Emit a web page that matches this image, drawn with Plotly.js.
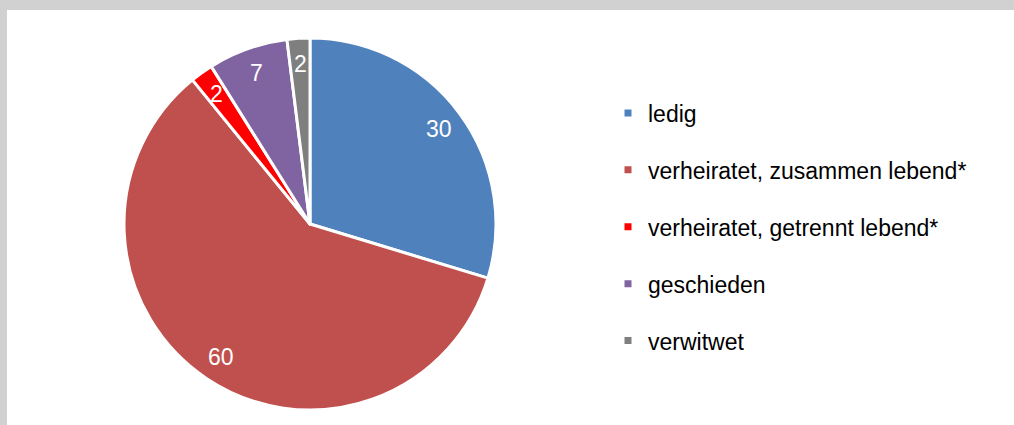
<!DOCTYPE html>
<html>
<head>
<meta charset="utf-8">
<script src="https://cdn.plot.ly/plotly-3.0.1.min.js"></script>
<style>html,body{margin:0;padding:0;background:#D1D1D1;}#chart{width:1014px;height:425px;}</style>
</head>
<body>
<div id="chart"></div>
<script>
const categories = ['ledig', 'verheiratet, zusammen lebend*', 'verheiratet, getrennt lebend*', 'geschieden', 'verwitwet'];
const values = [30, 60, 2, 7, 2];
const sliceColors = ['#4F81BD', '#C0504D', '#FF0000', '#8064A2', '#7F7F7F'];

const W = 1014, H = 425;
const M = {l: 7, r: 0, t: 10, b: 0};
const plotW = W - M.l - M.r, plotH = H - M.t - M.b;
// pie geometry (pixels in page)
const cxPx = 310, cyPx = 224, R = 186;
const cxF = (cxPx - M.l) / plotW;
const cyF = 1 - (cyPx - M.t) / plotH;
const dxF = R / plotW, dyF = R / plotH;

const pie = {
  type: 'pie',
  labels: categories,
  values: values,
  sort: false,
  direction: 'clockwise',
  rotation: 0,
  marker: {colors: sliceColors, line: {color: '#FFFFFF', width: 3}},
  textinfo: 'none',
  hoverinfo: 'skip',
  showlegend: false,
  domain: {x: [cxF - dxF, cxF + dxF], y: [cyF - dyF, cyF + dyF]}
};

// legend entries (one per category)
const legendTraces = categories.map((c, i) => ({
  type: 'scatter', mode: 'markers', x: [null], y: [null],
  name: c, legendgroup: 'g' + i, showlegend: true,
  marker: {symbol: 'square', size: 7, color: sliceColors[i]},
  hoverinfo: 'skip'
}));

// value labels placed along each slice's bisector
const total = values.reduce((a, b) => a + b, 0);
const labelFrac = 0.86;
let cum = 0;
const annotations = values.map(v => {
  const th = 2 * Math.PI * (cum + v / 2) / total;
  cum += v;
  return {
    xref: 'paper', yref: 'paper', showarrow: false,
    x: cxF + labelFrac * dxF * Math.sin(th),
    y: cyF + labelFrac * dyF * Math.cos(th),
    xanchor: 'center', yanchor: 'middle',
    text: String(v),
    font: {family: 'Liberation Sans, Arial, sans-serif', size: 23, color: '#FFFFFF'}
  };
});

const layout = {
  width: W, height: H,
  margin: M,
  paper_bgcolor: '#D1D1D1',
  plot_bgcolor: '#FFFFFF',
  xaxis: {visible: false, range: [0, 1], fixedrange: true},
  yaxis: {visible: false, range: [0, 1], fixedrange: true},
  showlegend: true,
  legend: {
    x: (608 - M.l) / plotW, xanchor: 'left',
    y: 1 - (91.5 - M.t) / plotH, yanchor: 'top',
    tracegroupgap: 24,
    traceorder: 'grouped',
    bgcolor: 'rgba(0,0,0,0)',
    font: {family: 'Liberation Sans, Arial, sans-serif', size: 23, color: '#000000'}
  },
  annotations: annotations,
  font: {family: 'Liberation Sans, Arial, sans-serif'}
};

Plotly.newPlot('chart', [pie].concat(legendTraces), layout, {displayModeBar: false, staticPlot: true});
</script>
</body>
</html>
